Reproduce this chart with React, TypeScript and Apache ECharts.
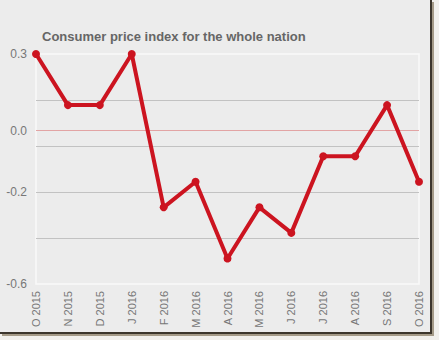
import React, { useEffect, useRef } from "react";
import * as echarts from "echarts";

const categories = [
  "O 2015", "N 2015", "D 2015", "J 2016", "F 2016", "M 2016", "A 2016",
  "M 2016", "J 2016", "J 2016", "A 2016", "S 2016", "O 2016",
];
const cpiValues = [0.3, 0.1, 0.1, 0.3, -0.3, -0.2, -0.5, -0.3, -0.4, -0.1, -0.1, 0.1, -0.2];
const yTickValues = [0.3, 0, -0.24, -0.6];
const yTickLabels = ["0.3", "0.0", "-0.2", "-0.6"];
const gridLineValues = [0.12, -0.06, -0.24, -0.42];
const zeroLineValue = 0;
const titleText = "Consumer price index for the whole nation";

export default function App() {
  const ref = useRef<HTMLDivElement>(null);
  useEffect(() => {
    document.body.style.margin = "0";
    const chart = echarts.init(ref.current!, null, { renderer: "svg" });
    chart.setOption({
      animation: false,
      backgroundColor: "#f1f0ec",
      title: {
        text: titleText,
        left: 37,
        top: 25,
        textStyle: { fontFamily: "Liberation Sans", fontSize: 13, fontWeight: "bold", color: "#666666" },
      },
      graphic: [
        { type: "rect", shape: { x: 0, y: 0, width: 430, height: 332 }, style: { fill: "#ececec" }, z: -10, silent: true },
        { type: "line", shape: { x1: 431, y1: 0, x2: 431, y2: 334 }, style: { stroke: "#3c362c", lineWidth: 2 }, z: -9 },
        { type: "line", shape: { x1: 433, y1: 2, x2: 433, y2: 336 }, style: { stroke: "#a59b88", lineWidth: 2 }, z: -9 },
        { type: "line", shape: { x1: 0, y1: 333, x2: 432, y2: 333 }, style: { stroke: "#3c362c", lineWidth: 2 }, z: -9 },
        { type: "line", shape: { x1: 2, y1: 335, x2: 434, y2: 335 }, style: { stroke: "#a59b88", lineWidth: 2 }, z: -9 },
      ],
      grid: {
        left: 36,
        right: 20,
        top: 54,
        bottom: 56,
        show: true,
        borderColor: "#f9f9f9",
        borderWidth: 1.5,
        backgroundColor: "transparent",
      },
      xAxis: {
        type: "category",
        data: categories,
        boundaryGap: false,
        axisLine: { show: false },
        axisTick: { show: false },
        splitLine: { show: false },
        axisLabel: {
          rotate: 90,
          margin: 7,
          interval: 0,
          color: "#777777",
          fontFamily: "Liberation Sans",
          fontSize: 11,
        },
      },
      yAxis: {
        type: "value",
        min: -0.6,
        max: 0.3,
        interval: 0.06,
        axisLine: { show: false },
        axisTick: { show: false },
        splitLine: { show: false },
        axisLabel: {
          margin: 9,
          color: "#777777",
          fontFamily: "Liberation Sans",
          fontSize: 12,
          formatter: (v: number) => {
            const i = yTickValues.findIndex((t) => Math.abs(t - v) < 1e-6);
            return i >= 0 ? yTickLabels[i] : "";
          },
        },
      },
      series: [
        {
          type: "line",
          data: cpiValues,
          symbol: "circle",
          symbolSize: 8,
          lineStyle: { color: "#cc1420", width: 4 },
          itemStyle: { color: "#cc1420" },
          z: 5,
          markLine: {
            silent: true,
            symbol: "none",
            label: { show: false },
            z: 1,
            data: [
              ...gridLineValues.map((v) => ({ yAxis: v, lineStyle: { color: "#c2c2c2", width: 1, type: "solid" } })),
              { yAxis: zeroLineValue, lineStyle: { color: "#e2a4a4", width: 1, type: "solid" } },
            ],
          },
        },
      ],
    });
    return () => chart.dispose();
  }, []);
  return <div ref={ref} style={{ width: 439, height: 340 }} />;
}
